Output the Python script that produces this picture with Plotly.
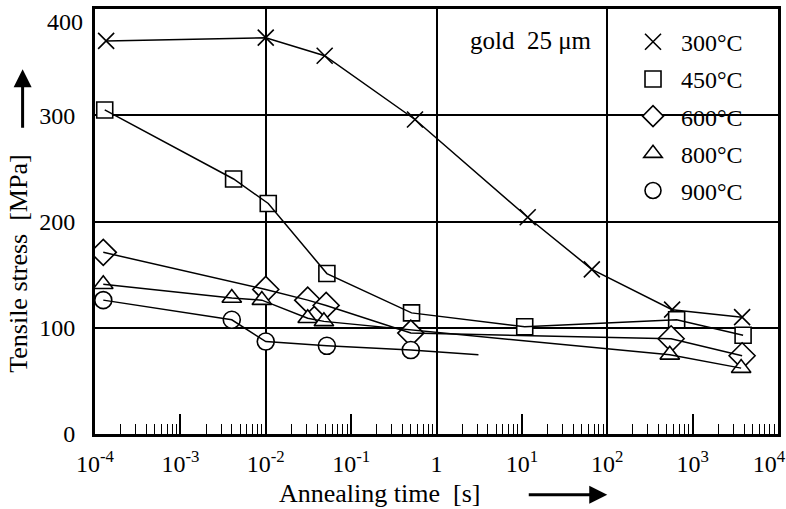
import plotly.graph_objects as go

# ---- data ----
labels = ["300°C", "450°C", "600°C", "800°C", "900°C"]
symbols = ["x-thin", "square", "diamond", "triangle-up", "circle"]

t300 = [1.35e-4, 0.0100, 0.049, 0.56, 11.7, 66, 575, 3800]
s300 = [370, 373, 356, 296, 204, 155, 117, 110]

t450 = [1.3e-4, 0.0042, 0.0107, 0.052, 0.51, 10.8, 650, 3900]
s450 = [305, 240, 217, 151, 114, 101, 107.5, 93]

t600 = [1.25e-4, 0.0100, 0.031, 0.051, 0.50, 560, 3800]
s600 = [171, 136, 126, 121, 95, 89.6, 73.6]

t800 = [1.25e-4, 0.0040, 0.0090, 0.031, 0.048, 540, 3700]
s800 = [141, 128, 126, 109, 106, 74.5, 62]

# last 900°C point is the end of the drawn line (no symbol)
t900 = [1.25e-4, 0.0040, 0.0100, 0.052, 0.50, 3.1]
s900 = [126, 107.5, 87, 83, 79, 74.5]
m900 = [True, True, True, True, True, False]

decade_vals = [1e-4, 1e-3, 1e-2, 1e-1, 1, 10, 100, 1000, 10000]
decade_text = ["10<sup>-4</sup>", "10<sup>-3</sup>", "10<sup>-2</sup>", "10<sup>-1</sup>", "1",
               "10<sup>1</sup>", "10<sup>2</sup>", "10<sup>3</sup>",
               "10<sup>4</sup>\u00a0\u00a0\u00a0"]
grid_x = [1e-2, 1, 100]
y_ticks = [0, 100, 200, 300]
y_top = 400

series = [
    (t300, s300, [True] * len(t300)),
    (t450, s450, [True] * len(t450)),
    (t600, s600, [True] * len(t600)),
    (t800, s800, [True] * len(t800)),
    (t900, s900, m900),
]
msize = [16, 16, 20, 17, 17]

FONT = "Liberation Serif"
FS = 24
fig = go.Figure()

# lines first (on overlay axis x2 that carries the minor ticks)
for (tx, sy, mk) in series:
    fig.add_trace(go.Scatter(x=tx, y=sy, mode="lines", xaxis="x2", yaxis="y",
                             line=dict(color="black", width=1.5), showlegend=False,
                             hoverinfo="skip"))

# markers on top
for i, (tx, sy, mk) in enumerate(series):
    xs = [a for a, k in zip(tx, mk) if k]
    ys = [b for b, k in zip(sy, mk) if k]
    if symbols[i] == "x-thin":
        marker = dict(symbol="x-thin", size=msize[i], color="black",
                      line=dict(color="black", width=1.6))
    else:
        marker = dict(symbol=symbols[i], size=msize[i], color="white",
                      line=dict(color="black", width=1.6))
    fig.add_trace(go.Scatter(x=xs, y=ys, mode="markers", name=labels[i],
                             marker=marker, legendgroup=labels[i]))

minor_vals = [m * 10 ** k for k in range(-4, 4) for m in range(2, 10)]

fig.update_layout(
    width=786, height=509,
    margin=dict(l=95, r=8, t=9, b=75, autoexpand=False),
    paper_bgcolor="white", plot_bgcolor="white",
    font=dict(family=FONT, size=FS, color="black"),
    showlegend=True,
    legend=dict(x=0.776, y=0.975, xanchor="left", yanchor="top",
                bgcolor="rgba(0,0,0,0)", borderwidth=0,
                font=dict(family=FONT, size=FS), tracegroupgap=3,
                itemwidth=46),
    xaxis=dict(type="log", range=[-4, 4], tickmode="array", tickvals=decade_vals,
               ticktext=decade_text, ticks="inside", ticklen=20, tickwidth=1.5,
               tickcolor="black", showgrid=False, zeroline=False, automargin=False,
               showline=True, linewidth=3, linecolor="black", mirror=True,
               minor=dict(tickmode="array", tickvals=grid_x, ticks="", showgrid=True,
                          gridcolor="black", gridwidth=1.5),
               tickfont=dict(family=FONT, size=FS), ticklabelstandoff=6,
               ticklabeloverflow="allow"),
    xaxis2=dict(type="log", range=[-4, 4], overlaying="x", anchor="y", side="bottom",
                tickmode="array", tickvals=minor_vals, ticks="inside", ticklen=10,
                tickwidth=1.2, tickcolor="black", showticklabels=False, automargin=False,
                showgrid=False, zeroline=False, showline=False),
    yaxis=dict(range=[0, y_top], tickmode="array", tickvals=y_ticks, ticks="",
               showgrid=True, gridcolor="black", gridwidth=1.5, zeroline=False,
               showline=True, linewidth=3, linecolor="black", mirror=True, automargin=False,
               tickfont=dict(family=FONT, size=FS), ticklabelstandoff=12,
               ticklabeloverflow="allow"),
)

annotations = [
    # top tick label, set just below the frame as in the original
    dict(text=str(y_top), x=0, y=y_top, xref="paper", yref="y", xanchor="right",
         yanchor="top", xshift=-10, yshift=2, showarrow=False,
         font=dict(family=FONT, size=FS)),
    dict(text="Tensile stress  [MPa]", x=-0.113, y=0.40, xref="paper", yref="paper",
         textangle=-90, showarrow=False, xanchor="center", yanchor="middle",
         font=dict(family=FONT, size=26)),
    dict(text="", x=-0.106, y=0.858, xref="paper", yref="paper", showarrow=True,
         ax=0, ay=60, arrowhead=2, arrowsize=1.2, arrowwidth=3, arrowcolor="black"),
    dict(text="Annealing time  [s]", x=0.416, y=-0.139, xref="paper", yref="paper",
         showarrow=False, xanchor="center", yanchor="middle",
         font=dict(family=FONT, size=26)),
    dict(text="", x=0.750, y=-0.143, xref="paper", yref="paper", showarrow=True,
         ax=-80, ay=0, arrowhead=2, arrowsize=1.2, arrowwidth=3, arrowcolor="black"),
    dict(text="gold  25 μm", x=0.638, y=0.927, xref="paper", yref="paper",
         showarrow=False, xanchor="center", yanchor="middle",
         font=dict(family=FONT, size=25)),
]
fig.update_layout(annotations=annotations)

fig.write_html("out.html", config={"displayModeBar": False},
               post_script="document.body.style.margin='0';document.body.style.padding='0';")
